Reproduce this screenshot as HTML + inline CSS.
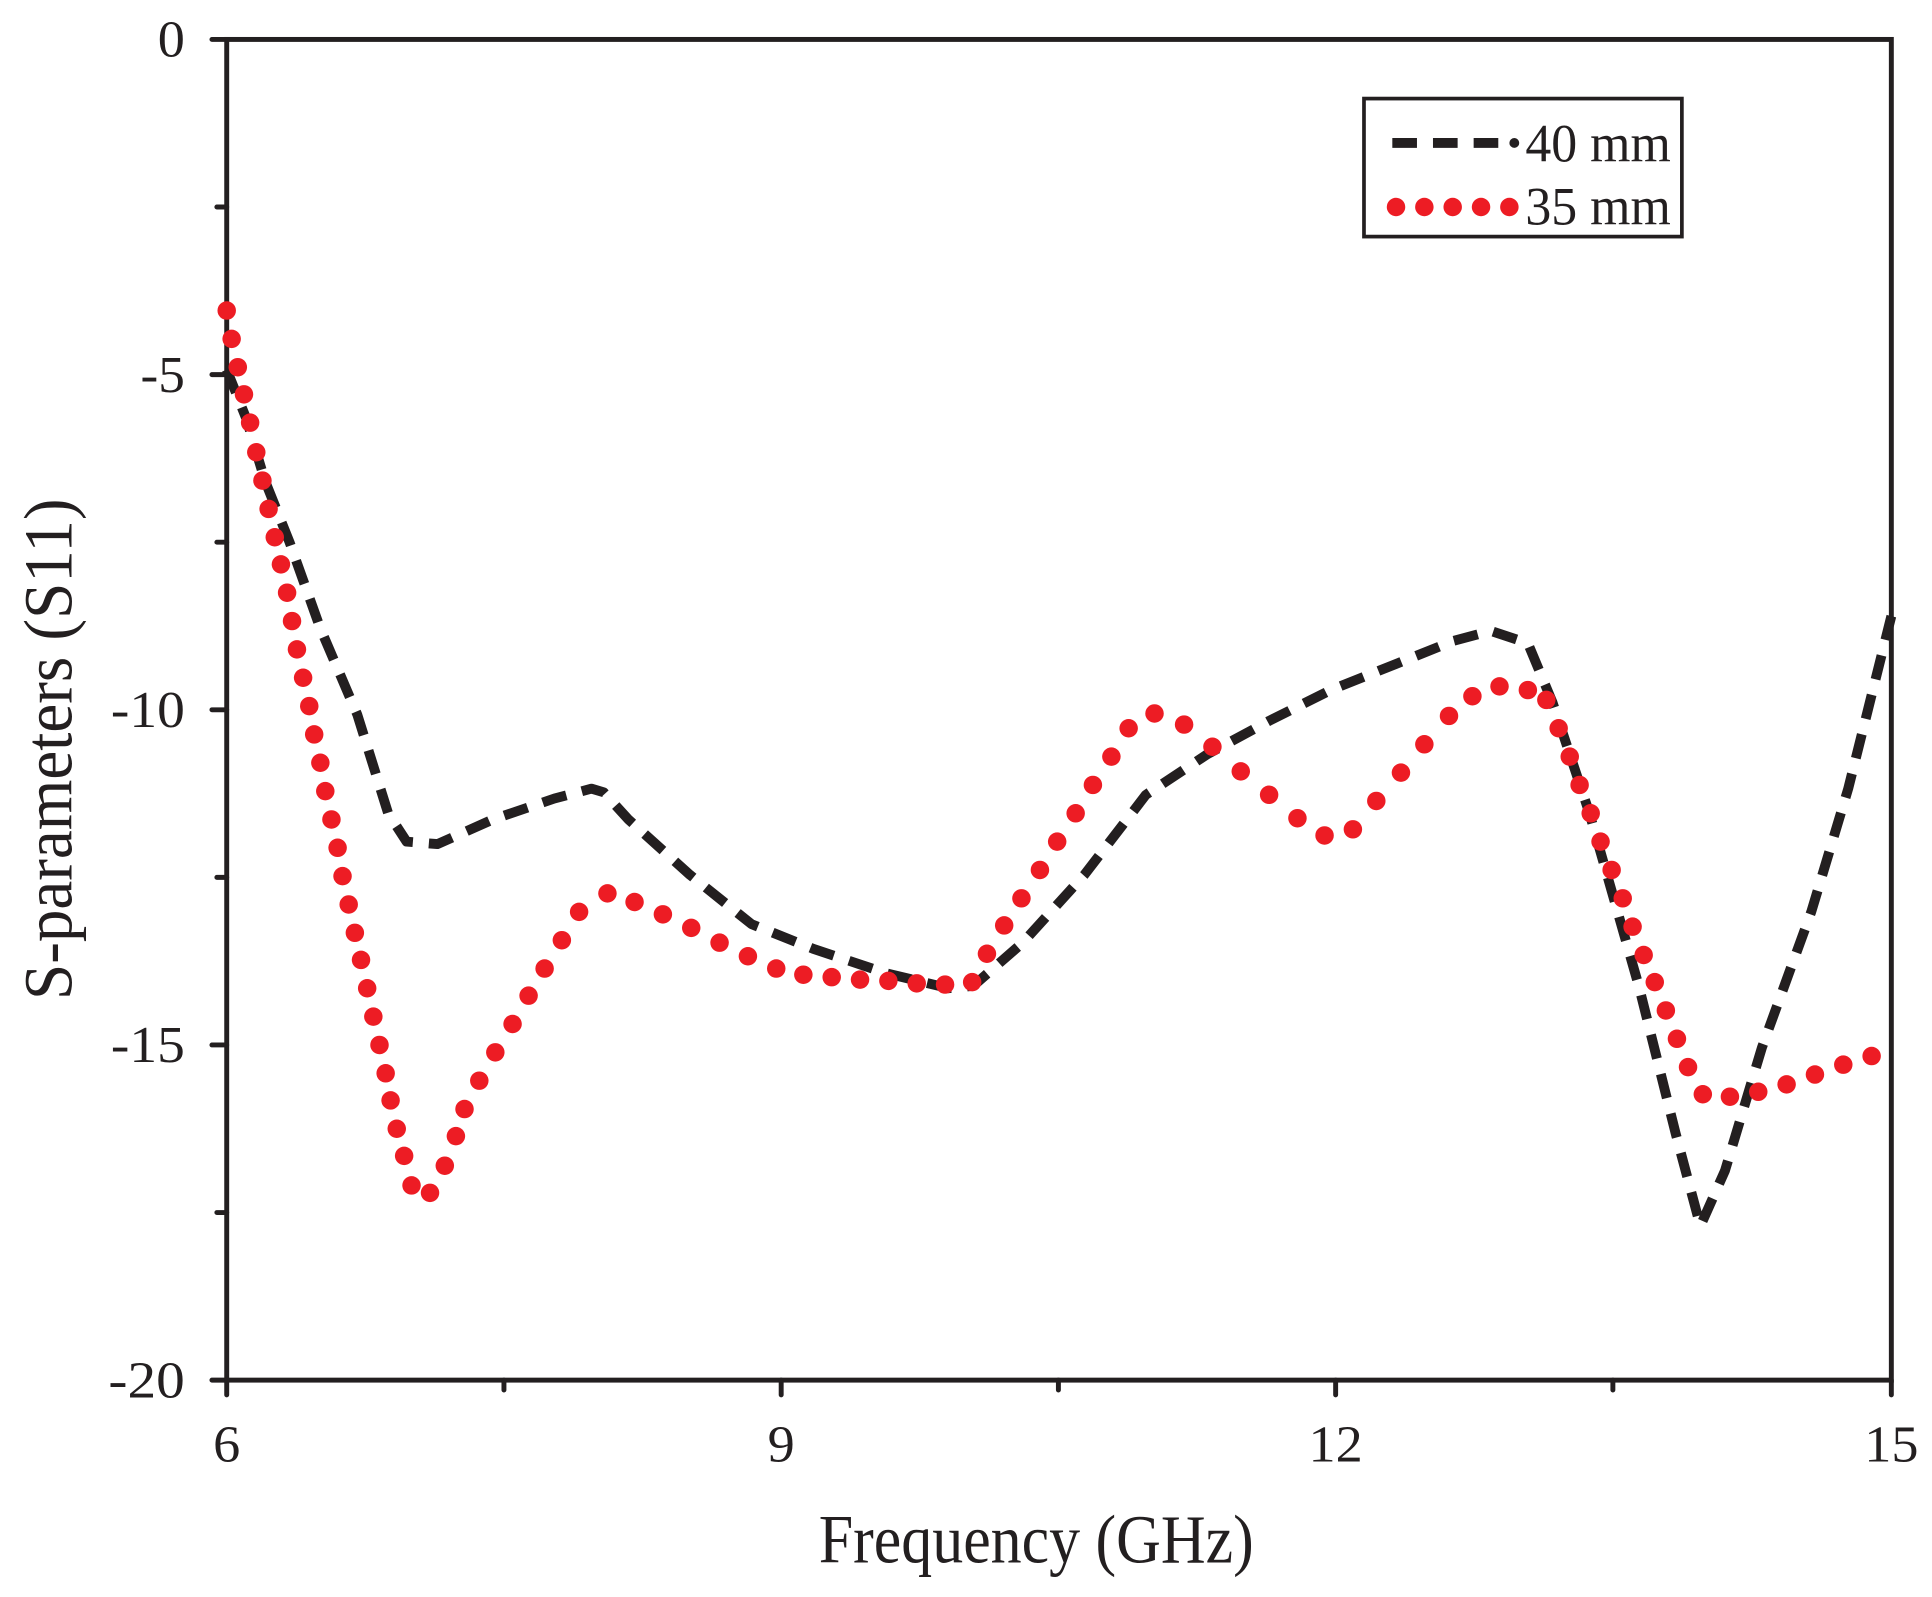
<!DOCTYPE html>
<html><head><style>html,body{margin:0;padding:0;background:#fff}svg{display:block}</style></head>
<body>
<svg width="1932" height="1597" viewBox="0 0 1568 1296" preserveAspectRatio="none" xmlns="http://www.w3.org/2000/svg" font-family="Liberation Serif, serif" fill="#231f20">
<g stroke="#231f20" stroke-width="4" fill="none" stroke-linecap="round">
<rect x="184" y="32" width="1351" height="1088"/>
<path d="M172 32H184M172 304H184M172 576H184M172 848H184M172 1120H184M176 168H184M176 440H184M176 712H184M176 984H184"/>
<path d="M184 1120V1132M634 1120V1132M1084 1120V1132M1535 1120V1132M409 1120V1128M859 1120V1128M1309 1120V1128"/>
</g>
<g font-size="42" text-anchor="end">
<text x="150" y="46" textLength="22" lengthAdjust="spacingAndGlyphs">0</text>
<text x="150" y="318" textLength="36" lengthAdjust="spacingAndGlyphs">-5</text>
<text x="150" y="590" textLength="60" lengthAdjust="spacingAndGlyphs">-10</text>
<text x="150" y="862" textLength="60" lengthAdjust="spacingAndGlyphs">-15</text>
<text x="150" y="1134" textLength="62" lengthAdjust="spacingAndGlyphs">-20</text>
</g>
<g font-size="42" text-anchor="middle">
<text x="184" y="1186" textLength="22" lengthAdjust="spacingAndGlyphs">6</text>
<text x="634" y="1186" textLength="22" lengthAdjust="spacingAndGlyphs">9</text>
<text x="1084" y="1186" textLength="44" lengthAdjust="spacingAndGlyphs">12</text>
<text x="1535" y="1186" textLength="44" lengthAdjust="spacingAndGlyphs">15</text>
</g>
<text x="841" y="1268" font-size="56" text-anchor="middle" textLength="353" lengthAdjust="spacingAndGlyphs">Frequency (GHz)</text>
<text transform="translate(58,608) rotate(-90)" font-size="56" text-anchor="middle" textLength="407" lengthAdjust="spacingAndGlyphs">S-parameters (S11)</text>
<path fill="none" stroke="#231f20" stroke-width="8" stroke-dasharray="20 13" stroke-linejoin="round" d="M184,300 L200,340 L215,390 L235,440 L260,510 L290,580 L315,660 L330,683 L355,685 L400,665 L450,648 L480,640 L490,643 L510,665 L560,710 L610,750 L660,770 L720,790 L770,802 L790,800 L830,765 L880,710 L930,645 L980,612 L1030,585 L1080,560 L1130,540 L1180,520 L1210,512 L1240,522 L1260,570 L1290,660 L1330,800 L1360,920 L1380,995 L1400,950 L1430,850 L1470,740 L1500,640 L1535,500"/>
<g fill="#ed1c24">
<circle cx="184" cy="252" r="7.5"/><circle cx="188" cy="275" r="7.5"/><circle cx="193" cy="298" r="7.5"/><circle cx="198" cy="320" r="7.5"/><circle cx="203" cy="343" r="7.5"/><circle cx="208" cy="367" r="7.5"/><circle cx="213" cy="390" r="7.5"/><circle cx="218" cy="413" r="7.5"/><circle cx="223" cy="436" r="7.5"/><circle cx="228" cy="458" r="7.5"/><circle cx="233" cy="481" r="7.5"/><circle cx="237" cy="504" r="7.5"/><circle cx="241" cy="527" r="7.5"/><circle cx="246" cy="550" r="7.5"/><circle cx="251" cy="573" r="7.5"/><circle cx="255" cy="596" r="7.5"/><circle cx="260" cy="619" r="7.5"/><circle cx="264" cy="642" r="7.5"/><circle cx="269" cy="665" r="7.5"/><circle cx="274" cy="688" r="7.5"/><circle cx="278" cy="711" r="7.5"/><circle cx="283" cy="734" r="7.5"/><circle cx="288" cy="757" r="7.5"/><circle cx="293" cy="779" r="7.5"/><circle cx="298" cy="802" r="7.5"/><circle cx="303" cy="825" r="7.5"/><circle cx="308" cy="848" r="7.5"/><circle cx="313" cy="871" r="7.5"/><circle cx="317" cy="893" r="7.5"/><circle cx="322" cy="916" r="7.5"/><circle cx="328" cy="938" r="7.5"/><circle cx="334" cy="962" r="7.5"/><circle cx="349" cy="968" r="7.5"/><circle cx="361" cy="946" r="7.5"/><circle cx="370" cy="922" r="7.5"/><circle cx="377" cy="900" r="7.5"/><circle cx="389" cy="877" r="7.5"/><circle cx="402" cy="854" r="7.5"/><circle cx="416" cy="831" r="7.5"/><circle cx="429" cy="808" r="7.5"/><circle cx="442" cy="786" r="7.5"/><circle cx="456" cy="763" r="7.5"/><circle cx="470" cy="740" r="7.5"/><circle cx="493" cy="725" r="7.5"/><circle cx="515" cy="732" r="7.5"/><circle cx="538" cy="742" r="7.5"/><circle cx="561" cy="753" r="7.5"/><circle cx="584" cy="765" r="7.5"/><circle cx="607" cy="776" r="7.5"/><circle cx="630" cy="786" r="7.5"/><circle cx="652" cy="791" r="7.5"/><circle cx="675" cy="793" r="7.5"/><circle cx="698" cy="795" r="7.5"/><circle cx="721" cy="796" r="7.5"/><circle cx="744" cy="798" r="7.5"/><circle cx="767" cy="799" r="7.5"/><circle cx="789" cy="797" r="7.5"/><circle cx="801" cy="774" r="7.5"/><circle cx="815" cy="751" r="7.5"/><circle cx="829" cy="729" r="7.5"/><circle cx="844" cy="706" r="7.5"/><circle cx="858" cy="683" r="7.5"/><circle cx="873" cy="660" r="7.5"/><circle cx="887" cy="637" r="7.5"/><circle cx="902" cy="614" r="7.5"/><circle cx="916" cy="591" r="7.5"/><circle cx="937" cy="579" r="7.5"/><circle cx="961" cy="588" r="7.5"/><circle cx="984" cy="606" r="7.5"/><circle cx="1007" cy="626" r="7.5"/><circle cx="1030" cy="645" r="7.5"/><circle cx="1053" cy="664" r="7.5"/><circle cx="1075" cy="678" r="7.5"/><circle cx="1098" cy="673" r="7.5"/><circle cx="1117" cy="650" r="7.5"/><circle cx="1137" cy="627" r="7.5"/><circle cx="1156" cy="604" r="7.5"/><circle cx="1176" cy="581" r="7.5"/><circle cx="1195" cy="565" r="7.5"/><circle cx="1217" cy="557" r="7.5"/><circle cx="1240" cy="560" r="7.5"/><circle cx="1255" cy="568" r="7.5"/><circle cx="1265" cy="591" r="7.5"/><circle cx="1274" cy="614" r="7.5"/><circle cx="1282" cy="637" r="7.5"/><circle cx="1291" cy="660" r="7.5"/><circle cx="1299" cy="683" r="7.5"/><circle cx="1308" cy="706" r="7.5"/><circle cx="1317" cy="729" r="7.5"/><circle cx="1325" cy="752" r="7.5"/><circle cx="1334" cy="775" r="7.5"/><circle cx="1343" cy="797" r="7.5"/><circle cx="1352" cy="820" r="7.5"/><circle cx="1361" cy="843" r="7.5"/><circle cx="1370" cy="866" r="7.5"/><circle cx="1382" cy="888" r="7.5"/><circle cx="1404" cy="890" r="7.5"/><circle cx="1427" cy="886" r="7.5"/><circle cx="1450" cy="880" r="7.5"/><circle cx="1473" cy="872" r="7.5"/><circle cx="1496" cy="864" r="7.5"/><circle cx="1519" cy="857" r="7.5"/>
</g>
<rect x="1107" y="80" width="258" height="112" fill="none" stroke="#231f20" stroke-width="3"/>
<path d="M1130,116 H1220" stroke="#231f20" stroke-width="8" stroke-dasharray="20 13" fill="none"/>
<circle cx="1229" cy="116" r="4"/>
<g fill="#ed1c24"><circle cx="1133" cy="168" r="7.5"/><circle cx="1156" cy="168" r="7.5"/><circle cx="1179" cy="168" r="7.5"/><circle cx="1202" cy="168" r="7.5"/><circle cx="1225" cy="168" r="7.5"/></g>
<text x="1238" y="131" font-size="44" textLength="118" lengthAdjust="spacingAndGlyphs">40 mm</text>
<text x="1238" y="182" font-size="44" textLength="118" lengthAdjust="spacingAndGlyphs">35 mm</text>
</svg>
</body></html>
